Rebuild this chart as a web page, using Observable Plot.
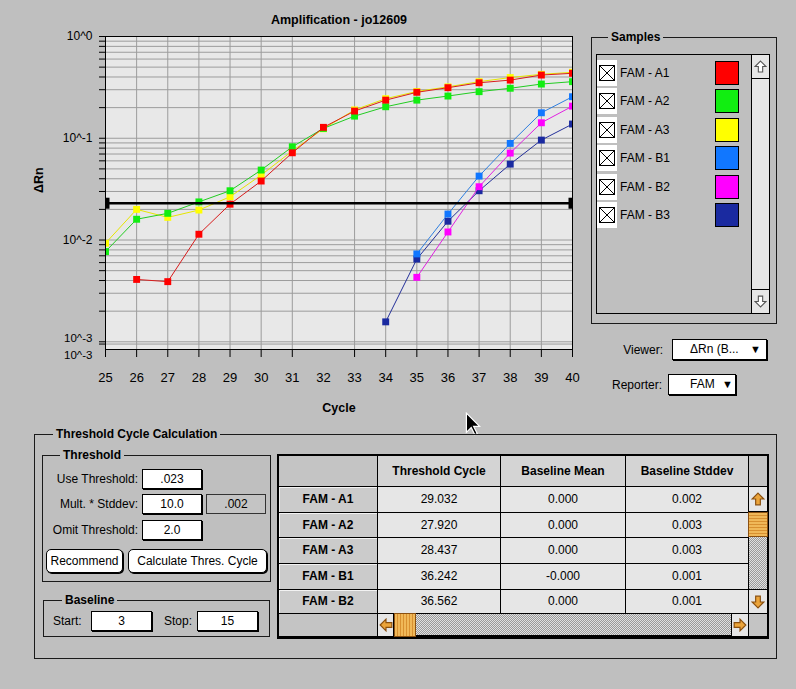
<!DOCTYPE html>
<html>
<head>
<meta charset="utf-8">
<script src="https://cdn.jsdelivr.net/npm/d3@7"></script>
<script src="https://cdn.jsdelivr.net/npm/@observablehq/plot@0.6"></script>
<style>
html,body{margin:0;padding:0;}
body{width:796px;height:689px;background:#bfbfbf;position:relative;overflow:hidden;font-family:"Liberation Sans",Arial,sans-serif;font-size:12px;color:#000;}
.a{position:absolute;box-sizing:border-box;white-space:nowrap;}
.b{font-weight:bold;}
.grp{border:1px solid #1a1a1a;}
.gt{background:#bfbfbf;padding:0 3px;line-height:14px;}
.fld{background:#fff;border:1px solid #000;box-shadow:1px 1px 0 #000;text-align:center;line-height:18px;}
.btn{background:#fff;border:1px solid #000;border-radius:5px;box-shadow:1px 1px 0 #000;text-align:center;line-height:22px;}
.cell{border:1px solid #000;text-align:center;}
.dots{background-color:#c4c4c4;background-image:repeating-conic-gradient(#9a9a9a 0 25%, #e0e0e0 0 50%);background-size:2px 2px;}
.lbl{line-height:16px;}
#chart svg{overflow:visible;}
</style>
</head>
<body>
<div id="chart" class="a" style="left:0;top:0"></div>
<div id="ui"></div>
<script>
// ---------- chart data ----------
const cycles = [25,26,27,28,29,30,31,32,33,34,35,36,37,38,39,40];
const xTickCycles = [25,26,27,28,29,30,31,33,34,35,36,37,38,39,40];
const xGridCycles = [26,27,28,29,30,31,33,34,35,36,37,38,39];
const sampleNames = ["FAM - A1","FAM - A2","FAM - A3","FAM - B1","FAM - B2","FAM - B3"];
const sampleColors = ["#ff0000","#11ee11","#ffff00","#1177ff","#ff00ff","#1a2aa0"];
const lineColors = ["#d81c1c","#22cc22","#e6e600","#2f7fe0","#e020e0","#24309a"];
const famA1 = [null,0.0041,0.0039,0.0114,0.0225,0.038,0.072,0.128,0.185,0.237,0.283,0.314,0.351,0.373,0.418,0.435];
const famA2 = [0.0077,0.016,0.0183,0.0237,0.0305,0.0487,0.0825,0.125,0.165,0.204,0.237,0.26,0.287,0.31,0.341,0.36];
const famA3 = [0.0093,0.020,0.0167,0.0197,0.0266,0.0435,0.075,0.124,0.19,0.245,0.288,0.32,0.36,0.395,0.425,0.445];
const famB1 = [null,null,null,null,null,null,null,null,null,null,0.0073,0.018,0.0425,0.089,0.178,0.256];
const famB2 = [null,null,null,null,null,null,null,null,null,null,0.0043,0.012,0.0334,0.0715,0.142,0.207];
const famB3 = [null,null,null,null,null,null,null,null,null,0.00157,0.0065,0.0153,0.0305,0.0557,0.096,0.138];
const series = [famA1,famA2,famA3,famB1,famB2,famB3];
const threshold = 0.023;
const yTickValues = [1,0.1,0.01];
const yTickLabels = ["10^0","10^-1","10^-2"];
const yBottomLabels = ["10^-3","10^-3"];
const yBottomValue = 0.001;
const yGridTicks = [1,0.9,0.8,0.7,0.6,0.5,0.4,0.3,0.2,0.1,
  0.09,0.08,0.07,0.06,0.05,0.04,0.03,0.02,0.01,
  0.009,0.008,0.007,0.006,0.005,0.004,0.003,0.002,0.001,0.00095];
const yDomain = [0.00084, 1];
const chartTitle = "Amplification - jo12609";
const xLabel = "Cycle";
const yLabel = "\u0394Rn";

// ---------- table / panel data ----------
const tableHeaders = ["Threshold Cycle","Baseline Mean","Baseline Stddev"];
const tableRows = ["FAM - A1","FAM - A2","FAM - A3","FAM - B1","FAM - B2"];
const thresholdCycle = ["29.032","27.920","28.437","36.242","36.562"];
const baselineMean = ["0.000","0.000","0.000","-0.000","0.000"];
const baselineStddev = ["0.002","0.003","0.003","0.001","0.001"];

// ---------- plot ----------
const labelMap = new Map(yTickValues.map((v,i)=>[v,yTickLabels[i]]));
const marks = [
  Plot.frame({fill:"#e8e8e8", stroke:null}),
  Plot.ruleY(yGridTicks, {stroke:"#9c9c9c", strokeWidth:1}),
  Plot.ruleX(xGridCycles, {stroke:"#9c9c9c", strokeWidth:1}),
];
for (let i = series.length-1; i >= 0; i--) {
  const rows = [];
  series[i].forEach((v,j)=>{ if (v != null) rows.push({cycle:cycles[j], value:v}); });
  marks.push(Plot.line(rows, {x:"cycle", y:"value", stroke:lineColors[i], strokeWidth:1, clip:true}));
  marks.push(Plot.dot(rows, {x:"cycle", y:"value", fill:sampleColors[i], stroke:null, symbol:"square", r:3.9, clip:true}));
}
const capSymbol = {draw(ctx){ ctx.rect(-2,-5.5,4,11); }};
marks.push(
  Plot.ruleY([threshold], {stroke:"#000", strokeWidth:2.5}),
  Plot.dot([cycles[0]], {x:d=>d, y:()=>threshold, symbol:capSymbol, fill:"#000", stroke:null, dx:2}),
  Plot.dot([cycles[cycles.length-1]], {x:d=>d, y:()=>threshold, symbol:capSymbol, fill:"#000", stroke:null, dx:-2}),
  Plot.frame({stroke:"#000", strokeWidth:1}),
  Plot.axisY({ticks:yGridTicks, tickSize:6, tickPadding:7, tickFormat:d=>labelMap.get(d) ?? "", fontSize:12, label:null, stroke:"#000"}),
  Plot.axisX({ticks:xTickCycles, tickSize:8, tickFormat:()=>"", label:null, stroke:"#000"}),
  Plot.axisX({ticks:cycles, tickSize:0, tickPadding:23, tickFormat:d=>String(d), fontSize:13, label:null}),
  Plot.text([yBottomLabels[0]], {text:d=>d, x:()=>cycles[0], y:()=>yBottomValue, dx:-13, dy:-3, textAnchor:"end", fontSize:11.5}),
  Plot.text([yBottomLabels[1]], {text:d=>d, frameAnchor:"bottom-left", dx:-13, dy:9, textAnchor:"end", fontSize:11.5}),
  Plot.text([chartTitle], {text:d=>d, frameAnchor:"top", dy:-21, fontWeight:"bold", fontSize:12.5}),
  Plot.text([xLabel], {text:d=>d, frameAnchor:"bottom", dy:62, fontWeight:"bold", fontSize:12.5}),
  Plot.text([yLabel], {text:d=>d, frameAnchor:"left", dx:-67, rotate:-90, fontWeight:"bold", fontSize:12.5})
);
const chart = Plot.plot({
  width:796, height:430,
  marginLeft:105, marginRight:224, marginTop:36, marginBottom:81,
  style:{background:"transparent", fontFamily:"'Liberation Sans', Arial, sans-serif", fontSize:"12px", color:"#000"},
  x:{domain:[cycles[0], cycles[cycles.length-1]], axis:null},
  y:{type:"log", domain:yDomain, axis:null},
  marks
});
document.getElementById("chart").appendChild(chart);

// ---------- UI helpers ----------
const ui = document.getElementById("ui");
function el(cls, l, t, w, h, html, style="") {
  const d = document.createElement("div");
  d.className = "a " + cls;
  d.style.cssText = `left:${l}px;top:${t}px;` + (w!=null?`width:${w}px;`:"") + (h!=null?`height:${h}px;`:"") + style;
  if (html != null) d.innerHTML = html;
  ui.appendChild(d);
  return d;
}
function arrow(dir, fill, stroke, size=12) {
  const rot = {up:0, right:90, down:180, left:270}[dir];
  return `<svg width="${size}" height="${size}" viewBox="0 0 12 12" style="display:block;margin:auto"><polygon points="6,1 11,6 8,6 8,11 4,11 4,6 1,6" fill="${fill}" stroke="${stroke}" stroke-width="1" transform="rotate(${rot} 6 6)"/></svg>`;
}
const checkSvg = `<svg width="16" height="16" viewBox="0 0 16 16" style="display:block;margin:5px auto 0"><rect x="0.5" y="0.5" width="15" height="15" fill="#fff" stroke="#000"/><line x1="1" y1="1" x2="15" y2="15" stroke="#000"/><line x1="15" y1="1" x2="1" y2="15" stroke="#000"/></svg>`;

// ---------- Samples panel ----------
el("grp", 591, 37, 186, 287);
el("gt b", 608, 30, null, 14, "Samples");
el("", 596, 54, 174, 260, "", "border:1px solid #000;");
el("", 751, 54, 19, 260, "", "border:1px solid #000;background:#e6e6e6;");
el("", 751, 54, 19, 25, arrow("up","#fff","#555",13), "border:1px solid #000;background:#e6e6e6;padding-top:5px;");
el("", 751, 289, 19, 25, arrow("down","#fff","#555",13), "border:1px solid #000;background:#e6e6e6;padding-top:5px;");
sampleNames.forEach((n,i)=>{
  const c = 73 + i*28.4;
  el("", 597, c-13, 20, 26, checkSvg, "background:#fff;");
  el("lbl", 620, c-8, 90, 16, n);
  el("", 715, c-12, 24, 24, "", `background:${sampleColors[i]};border:1px solid #000;`);
});
el("lbl", 583, 342, 80, 16, "Viewer:", "text-align:right;");
el("fld", 672, 339, 95, 21, "", "");
el("lbl", 690, 341, 60, 16, "\u0394Rn (B...");
el("lbl", 750, 341, 14, 16, "\u25BC", "font-size:11px;");
el("lbl", 582, 377, 80, 16, "Reporter:", "text-align:right;");
el("fld", 668, 374, 68, 21, "", "");
el("lbl", 690, 376, 30, 16, "FAM");
el("lbl", 722, 376, 14, 16, "\u25BC", "font-size:11px;");

// ---------- cursor ----------
el("", 465, 412, 16, 24, `<svg width="16" height="24" viewBox="0 0 13 20"><polygon points="1,1 1,17 5,13 8,19 10,18 7,12 12,12" fill="#000" stroke="#fff" stroke-width="1"/></svg>`);

// ---------- Threshold Cycle Calculation ----------
el("grp", 34, 434, 743, 225);
el("gt b", 53, 427, null, 14, "Threshold Cycle Calculation");
el("grp", 42, 455, 229, 127);
el("gt b", 60, 448, null, 14, "Threshold");
[["Use Threshold:",479],["Mult. * Stddev:",504],["Omit Threshold:",530]].forEach(([t,c])=>{
  el("lbl", 18, c-8, 120, 16, t, "text-align:right;");
});
el("fld", 142, 469, 60, 20, ".023");
el("fld", 142, 494, 60, 20, "10.0");
el("", 206, 494, 60, 20, ".002", "background:#c4c4c4;border:1px solid #333;text-align:center;line-height:18px;");
el("fld", 142, 520, 60, 20, "2.0");
el("btn", 46, 549, 77, 24, "Recommend");
el("btn", 128, 549, 139, 24, "Calculate Thres. Cycle");
el("grp", 43, 600, 227, 37);
el("gt b", 62, 593, null, 14, "Baseline");
el("lbl", 53, 613, 40, 16, "Start:");
el("fld", 91, 611, 61, 20, "3");
el("lbl", 164, 613, 40, 16, "Stop:");
el("fld", 197, 611, 61, 20, "15");

// ---------- table ----------
const colX = [278, 377, 500, 625, 748, 767];
const rowY = [455, 486, 512, 537, 563, 589, 613, 637];
el("", 277, 454, 492, 185, "", "border:2px solid #000;background:#bfbfbf;");
el("cell", colX[0], rowY[0], colX[1]-colX[0]+1, rowY[1]-rowY[0]+1, "", "background:#c4c4c4;");
tableHeaders.forEach((h,i)=>{
  el("cell b", colX[i+1], rowY[0], colX[i+2]-colX[i+1]+1, rowY[1]-rowY[0]+1, h, `background:#d4d4d4;line-height:${rowY[1]-rowY[0]-1}px;`);
});
el("cell", colX[4], rowY[0], colX[5]-colX[4]+1, rowY[1]-rowY[0]+1, "", "background:#c4c4c4;");
const cols = [thresholdCycle, baselineMean, baselineStddev];
tableRows.forEach((r,i)=>{
  const t = rowY[i+1], h = rowY[i+2]-rowY[i+1]+1;
  el("cell b", colX[0], t, colX[1]-colX[0]+1, h, r, `background:#cbcbcb;box-shadow:inset 1px 1px 0 #f2f2f2;line-height:${h-2}px;`);
  cols.forEach((col,k)=>{
    el("cell", colX[k+1], t, colX[k+2]-colX[k+1]+1, h, col[i], `background:#e6e6e6;line-height:${h-2}px;`);
  });
});
// vertical scrollbar
el("dots", colX[4], rowY[1], colX[5]-colX[4]+1, rowY[6]-rowY[1]+1, "", "border:1px solid #000;");
el("", colX[4], rowY[1], colX[5]-colX[4]+1, 26, arrow("up","#eba43a","#8a5010",14), "border:1px solid #000;background:#e6e6e6;padding-top:5px;");
el("", colX[4], rowY[2], colX[5]-colX[4]+1, 25, "", "border:1px solid #8a5010;background:repeating-linear-gradient(#f0b858 0 2px,#d89030 2px 3px);");
el("", colX[4], rowY[5], colX[5]-colX[4]+1, 25, arrow("down","#eba43a","#8a5010",14), "border:1px solid #000;background:#e6e6e6;padding-top:5px;");
// horizontal scrollbar
el("cell", colX[0], rowY[6], colX[1]-colX[0]+1, rowY[7]-rowY[6], "", "background:#c4c4c4;");
el("dots", colX[1], rowY[6], colX[4]-colX[1]+1, rowY[7]-rowY[6], "", "border:1px solid #000;border-bottom-width:2px;");
el("", colX[1], rowY[6], 17, rowY[7]-rowY[6], arrow("left","#eba43a","#8a5010",14), "border:1px solid #000;background:#e6e6e6;padding-top:4px;");
el("", colX[1]+17, rowY[6], 22, rowY[7]-rowY[6], "", "border:1px solid #8a5010;background:repeating-linear-gradient(90deg,#f0b858 0 2px,#d89030 2px 3px);");
el("", colX[4]-17, rowY[6], 18, rowY[7]-rowY[6], arrow("right","#eba43a","#8a5010",14), "border:1px solid #000;background:#e6e6e6;padding-top:4px;");
el("cell", colX[4], rowY[6], colX[5]-colX[4]+1, rowY[7]-rowY[6], "", "background:#c4c4c4;");
</script>
</body>
</html>
